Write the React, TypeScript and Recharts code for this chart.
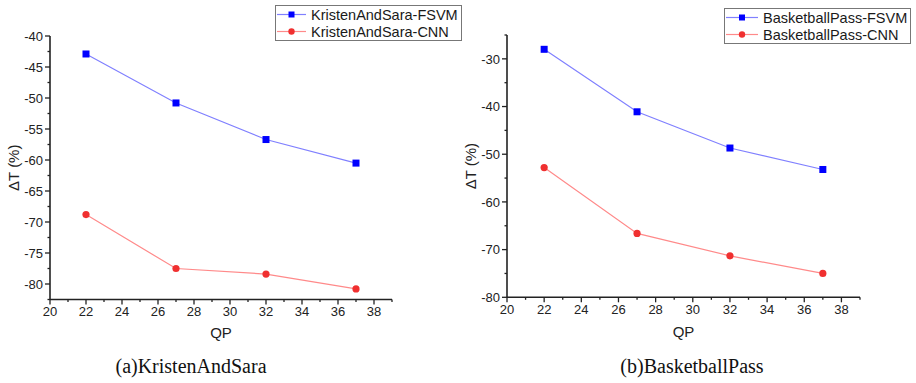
import { LineChart, Line, XAxis, YAxis, Legend } from 'recharts'

const qp = [22, 27, 32, 37]

const ksFsvm = [-42.9, -50.8, -56.7, -60.5]
const ksCnn = [-68.8, -77.5, -78.4, -80.8]
const bpFsvm = [-28.0, -41.1, -48.7, -53.2]
const bpCnn = [-52.8, -66.6, -71.3, -75.0]

const xMajor = [20, 22, 24, 26, 28, 30, 32, 34, 36, 38]
const xMinor = [21, 23, 25, 27, 29, 31, 33, 35, 37, 39]
const ksYMajor = [-80, -75, -70, -65, -60, -55, -50, -45, -40]
const ksYMinor = [-82.5, -77.5, -72.5, -67.5, -62.5, -57.5, -52.5, -47.5, -42.5]
const bpYMajor = [-80, -70, -60, -50, -40, -30]
const bpYMinor = [-75, -65, -55, -45, -35, -25]

const AXIS = '#222'
const FONT = '"Liberation Sans", Arial, sans-serif'
const LINE_BLUE = '#8080ff'
const DOT_BLUE = '#0000ff'
const LINE_RED = '#ff8a8a'
const DOT_RED = '#f03030'

function YTick(props: any) {
  const { x, y, payload, majors } = props
  const major = majors.includes(payload.value)
  return (
    <g>
      <line x1={x + (major ? 2 : 4.5)} x2={x + 7} y1={y} y2={y} stroke={AXIS} strokeWidth={1.3} />
      {major && (
        <text x={x} y={y} dy="0.36em" textAnchor="end" fontSize={13} fontFamily={FONT} fill="#222">
          {payload.value}
        </text>
      )}
    </g>
  )
}

function XTick(props: any) {
  const { x, y, payload, majors } = props
  const major = majors.includes(payload.value)
  return (
    <g>
      <line x1={x} x2={x} y1={y - 7} y2={y - (major ? 2 : 4.5)} stroke={AXIS} strokeWidth={1.3} />
      {major && (
        <text x={x} y={y} dy="0.72em" textAnchor="middle" fontSize={13} fontFamily={FONT} fill="#222">
          {payload.value}
        </text>
      )}
    </g>
  )
}

function Square(props: any) {
  const { cx, cy, index } = props
  return <rect key={index} x={cx - 3.5} y={cy - 3.5} width={7} height={7} fill={DOT_BLUE} />
}

function Circle(props: any) {
  const { cx, cy, index } = props
  return <circle key={index} cx={cx} cy={cy} r={3.6} fill={DOT_RED} />
}

function LegendBox({ names, textLeft }: { names: string[]; textLeft: number }) {
  const row = (name: string, square: boolean) => (
    <div style={{ display: 'flex', alignItems: 'center', height: 17 }}>
      <svg width={textLeft} height={17} style={{ flex: 'none' }}>
        <line x1={1} x2={textLeft - 5} y1={8.5} y2={8.5} stroke={square ? LINE_BLUE : LINE_RED} strokeWidth={1.2} />
        {square
          ? <rect x={(textLeft - 4) / 2 - 3} y={5.5} width={6} height={6} fill={DOT_BLUE} />
          : <circle cx={(textLeft - 4) / 2} cy={8.5} r={3.2} fill={DOT_RED} />}
      </svg>
      <span style={{ fontSize: 14.5, fontFamily: FONT, color: '#1a1a1a', whiteSpace: 'nowrap' }}>{name}</span>
    </div>
  )
  return (
    <div style={{ border: '1.5px solid #777', background: '#fff', padding: '0px 3px 0px 0px' }}>
      {row(names[0], true)}
      {row(names[1], false)}
    </div>
  )
}

interface PanelProps {
  left: number
  fsvm: number[]
  cnn: number[]
  names: string[]
  domain: [number, number]
  yMajor: number[]
  yMinor: number[]
  margin: { top: number; right: number; bottom: number; left: number }
  legendPos: { left: number; top: number }
  textLeft: number
  qpOffset: number
}

function Panel(p: PanelProps) {
  const data = qp.map((q, i) => ({ qp: q, fsvm: p.fsvm[i], cnn: p.cnn[i] }))
  const yTicks = [...p.yMajor, ...p.yMinor].sort((a, b) => a - b)
  const xTicks = [...xMajor, ...xMinor].sort((a, b) => a - b)
  return (
    <div style={{ position: 'absolute', left: p.left, top: 0 }}>
      <LineChart width={460} height={383} data={data} margin={p.margin}>
        <XAxis
          type="number"
          dataKey="qp"
          domain={[20, 39]}
          ticks={xTicks}
          interval={0}
          tickSize={5}
          tickMargin={2}
          height={30}
          tickLine={false}
          tick={<XTick majors={xMajor} />}
          axisLine={{ stroke: AXIS, strokeWidth: 1.6 }}
          label={{ value: 'QP', position: 'bottom', offset: p.qpOffset, fontSize: 15, fontFamily: FONT, fill: '#222' }}
        />
        <YAxis
          type="number"
          domain={p.domain}
          ticks={yTicks}
          interval={0}
          width={50}
          tickSize={5}
          tickMargin={2}
          tickLine={false}
          allowDataOverflow
          tick={<YTick majors={p.yMajor} />}
          axisLine={{ stroke: AXIS, strokeWidth: 1.6 }}
          label={{
            value: 'ΔT (%)', angle: -90, position: 'insideLeft', offset: 14,
            style: { textAnchor: 'middle', fontSize: 15, fontFamily: FONT, fill: '#222' },
          }}
        />
        <Legend
          layout="vertical"
          align="center"
          verticalAlign="middle"
          wrapperStyle={{ left: p.legendPos.left, top: p.legendPos.top, width: 'auto' }}
          content={() => <LegendBox names={p.names} textLeft={p.textLeft} />}
        />
        <Line dataKey="fsvm" name={p.names[0]} stroke={LINE_BLUE} strokeWidth={1.2} dot={Square} activeDot={false} isAnimationActive={false} />
        <Line dataKey="cnn" name={p.names[1]} stroke={LINE_RED} strokeWidth={1.2} dot={Circle} activeDot={false} isAnimationActive={false} />
      </LineChart>
    </div>
  )
}

const captionStyle = {
  position: 'absolute' as const,
  top: 355,
  fontFamily: '"Liberation Serif", "Times New Roman", serif',
  fontSize: 20,
  color: '#111',
  textAlign: 'center' as const,
  whiteSpace: 'nowrap' as const,
}

export default function App() {
  return (
    <div style={{ position: 'absolute', left: 0, top: 0, width: 916, height: 383, background: '#fff', overflow: 'hidden' }}>
      <Panel
        left={0}
        fsvm={ksFsvm}
        cnn={ksCnn}
        names={['KristenAndSara-FSVM', 'KristenAndSara-CNN']}
        domain={[-82.5, -40]}
        yMajor={ksYMajor}
        yMinor={ksYMinor}
        margin={{ top: 36, right: 68, bottom: 53.5, left: 0 }}
        legendPos={{ left: 275, top: 5 }}
        textLeft={35}
        qpOffset={-2}
      />
      <Panel
        left={457}
        fsvm={bpFsvm}
        cnn={bpCnn}
        names={['BasketballPass-FSVM', 'BasketballPass-CNN']}
        domain={[-80, -25]}
        yMajor={bpYMajor}
        yMinor={bpYMinor}
        margin={{ top: 35, right: 57, bottom: 55.7, left: 0 }}
        legendPos={{ left: 267, top: 8 }}
        textLeft={38}
        qpOffset={-1}
      />
      <div style={{ ...captionStyle, left: 0, width: 382 }}>(a)KristenAndSara</div>
      <div style={{ ...captionStyle, left: 501, width: 382 }}>(b)BasketballPass</div>
    </div>
  )
}
